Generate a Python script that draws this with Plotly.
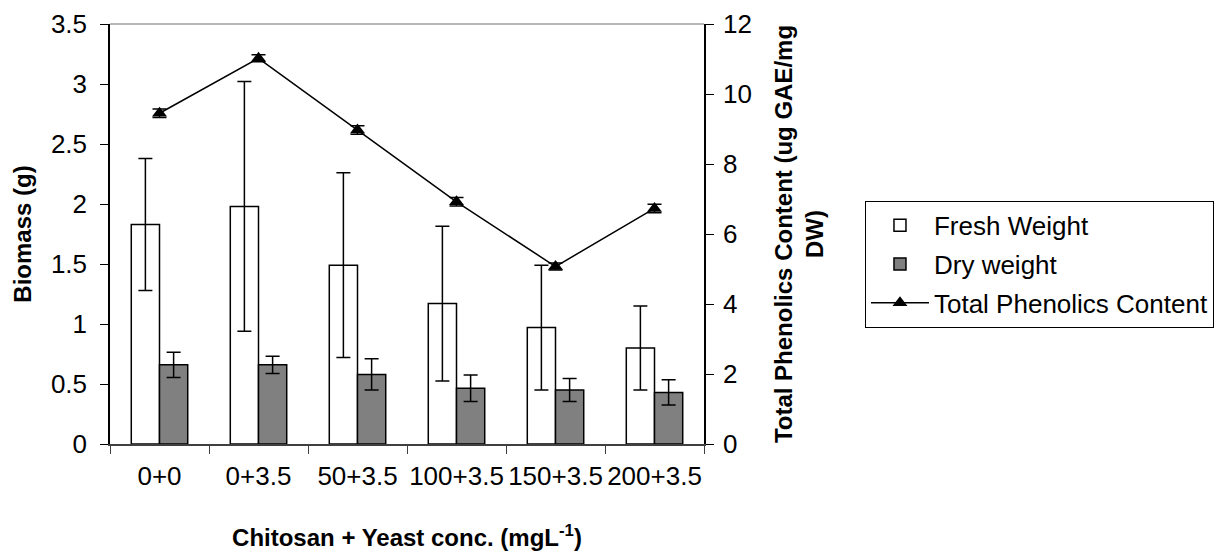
import plotly.graph_objects as go

categories = ["0+0", "0+3.5", "50+3.5", "100+3.5", "150+3.5", "200+3.5"]
fresh_weight = [1.83, 1.98, 1.49, 1.17, 0.97, 0.80]
fresh_err = [0.55, 1.04, 0.77, 0.645, 0.52, 0.35]
dry_weight = [0.66, 0.66, 0.58, 0.465, 0.45, 0.43]
dry_err = [0.105, 0.072, 0.13, 0.11, 0.095, 0.105]
tpc = [9.45, 11.02, 8.97, 6.92, 5.07, 6.73]
tpc_err = [0.12, 0.1, 0.12, 0.12, 0.1, 0.12]
left_ticks = [0, 0.5, 1, 1.5, 2, 2.5, 3, 3.5]
right_ticks = [0, 2, 4, 6, 8, 10, 12]

FONT = "Liberation Sans, Arial, sans-serif"
TICK = 26
TITLE = 24

fig = go.Figure()
fig.add_trace(go.Bar(
    x=categories, y=fresh_weight, name="Fresh Weight", legendgroup="a",
    marker=dict(color="white", line=dict(color="black", width=1.5)),
    error_y=dict(type="data", array=fresh_err, color="black", thickness=1.5, width=7),
))
fig.add_trace(go.Bar(
    x=categories, y=dry_weight, name="Dry weight", legendgroup="b",
    marker=dict(color="#808080", line=dict(color="black", width=1.5)),
    error_y=dict(type="data", array=dry_err, color="black", thickness=1.5, width=7),
))
fig.add_trace(go.Scatter(
    x=categories, y=tpc, name="Total Phenolics Content", legendgroup="c",
    yaxis="y2", mode="lines+markers",
    line=dict(color="black", width=1.5),
    marker=dict(symbol="triangle-up", size=13, color="black"),
    error_y=dict(type="data", array=tpc_err, color="black", thickness=1.5, width=7),
))

fig.update_layout(
    width=1222, height=557,
    margin=dict(l=110, r=518, t=24, b=113, autoexpand=False),
    paper_bgcolor="white", plot_bgcolor="white",
    font=dict(family=FONT, size=TICK, color="black"),
    barmode="group", bargap=0.43, bargroupgap=0,
    showlegend=True,
    legend=dict(
        x=1.271, y=0.579, xanchor="left", yanchor="top",
        bordercolor="black", borderwidth=1, bgcolor="white",
        font=dict(size=26), tracegroupgap=2, itemwidth=58,
    ),
    xaxis=dict(
        type="category", tickson="boundaries", ticks="outside", ticklen=8,
        tickcolor="#404040", showline=True, linecolor="#404040", linewidth=1.5,
        showgrid=False, tickfont=dict(size=TICK), tickangle=0, automargin=False,
        ticklabelstandoff=8,
        title=dict(text="<b>Chitosan + Yeast conc. (mgL<sup>-1</sup>)</b>", font=dict(size=TITLE), standoff=39),
    ),
    yaxis=dict(
        range=[0, 3.5], tickvals=left_ticks, ticks="outside", ticklen=8,
        tickcolor="black", showline=True, linecolor="black", linewidth=1.5,
        showgrid=False, zeroline=False, tickfont=dict(size=TICK), automargin=False,
        ticklabelstandoff=8,
        title=dict(text="<b>Biomass (g)</b>", font=dict(size=TITLE), standoff=12),
    ),
    yaxis2=dict(
        range=[0, 12], tickvals=right_ticks, overlaying="y", side="right",
        ticks="outside", ticklen=8, tickcolor="black", showline=True,
        linecolor="black", linewidth=1.5, showgrid=False, zeroline=False,
        tickfont=dict(size=TICK), automargin=False, ticklabelstandoff=4,
        title=dict(text="<b>Total Phenolics Content (ug GAE/mg<br>DW)</b>", font=dict(size=TITLE), standoff=24),
    ),
    shapes=[dict(type="line", xref="paper", yref="paper", x0=0, x1=1, y0=1, y1=1,
                 line=dict(color="#a0a0a0", width=1.5))],
)

fig.write_html("out.html")
